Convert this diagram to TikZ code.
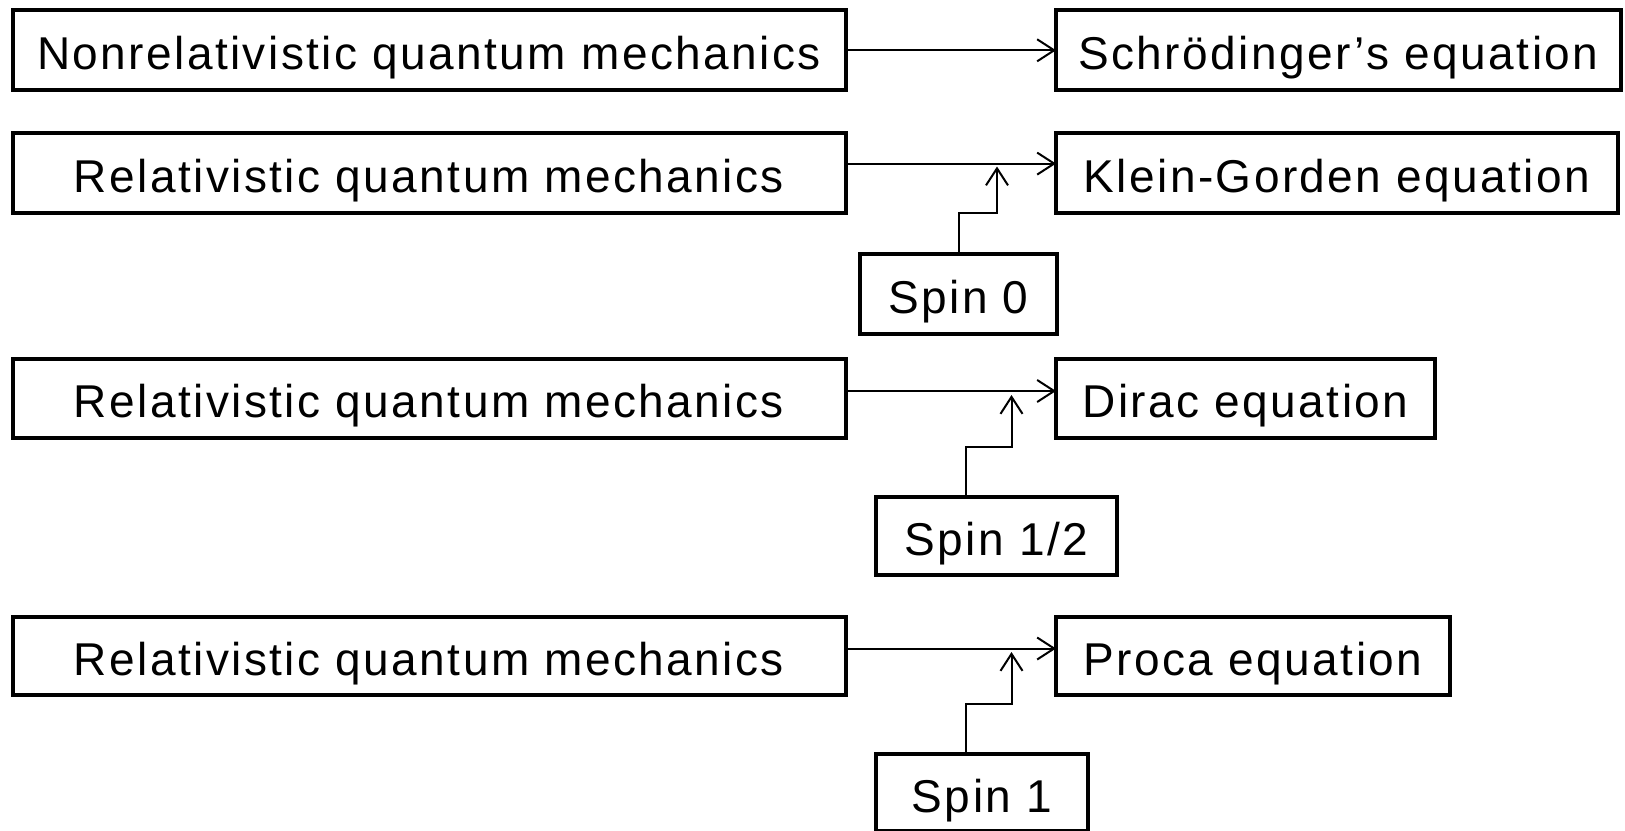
\documentclass[tikz,border=0pt]{standalone}
\usepackage{fontspec}
\newfontfamily\dfont{Liberation Sans}[LetterSpace=5.3]
\usetikzlibrary{arrows.meta,calc}
\begin{document}
\begin{tikzpicture}[x=1pt,y=-1pt,
  box/.style={draw=black,line width=4pt,rectangle,inner sep=0pt,outer sep=0pt,
    minimum height=80pt,text height=43pt,text depth=4pt,
    font=\dfont\fontsize{46}{50}\selectfont},
  arr/.style={draw=black,line width=2pt,-{Straight Barb[length=17pt,width=22pt]}}]
\useasboundingbox (0,0) rectangle (1625,830);
% row 1
\node[box,minimum width=833pt] (nonrel) at (429,50.3) {Nonrelativistic quantum mechanics};
\node[box,minimum width=565pt] (schr) at (1338.5,50.3) {Schrödinger’s equation};
% row 2
\node[box,minimum width=833pt] (rel1) at (429,172.6) {Relativistic quantum mechanics};
\node[box,minimum width=562pt] (kg) at (1337,172.6) {Klein-Gorden equation};
\node[box,minimum width=197pt] (spin0) at (958.5,294) {Spin 0};
% row 3
\node[box,minimum width=833pt,minimum height=79pt] (rel2) at (429,398) {Relativistic quantum mechanics};
\node[box,minimum width=379pt,minimum height=79pt] (dirac) at (1245.5,398) {Dirac equation};
\node[box,minimum width=241.5pt,minimum height=78pt] (spin12) at (996.5,536.3) {Spin 1/2};
% row 4
\node[box,minimum width=833pt,minimum height=78pt] (rel3) at (429,655.5) {Relativistic quantum mechanics};
\node[box,minimum width=394pt,minimum height=78pt] (proca) at (1253,655.5) {Proca equation};
\node[box,minimum width=212pt,minimum height=77pt] (spin1) at (982,792.5) {Spin 1};
% coordinates for bends
\coordinate (b0) at (997,212.5);
\coordinate (t0) at (997,166.5);
\coordinate (s12) at (966,497.3);
\coordinate (b12) at (1011.5,447);
\coordinate (t12) at (1011.5,395);
\coordinate (s1) at (966,754);
\coordinate (b1) at (1011.5,703.5);
\coordinate (t1) at (1011.5,652);
% connectors
\draw[arr] (nonrel.east) -- (schr.west);
\draw[arr] ([yshift=9pt]rel1.east) -- ([yshift=9pt]kg.west);
\draw[arr] (spin0.north) |- (b0) -- (t0);
\draw[arr] ([yshift=7pt]rel2.east) -- ([yshift=7pt]dirac.west);
\draw[arr] (s12) |- (b12) -- (t12);
\draw[arr] ([yshift=7pt]rel3.east) -- ([yshift=7pt]proca.west);
\draw[arr] (s1) |- (b1) -- (t1);
\end{tikzpicture}
\end{document}
